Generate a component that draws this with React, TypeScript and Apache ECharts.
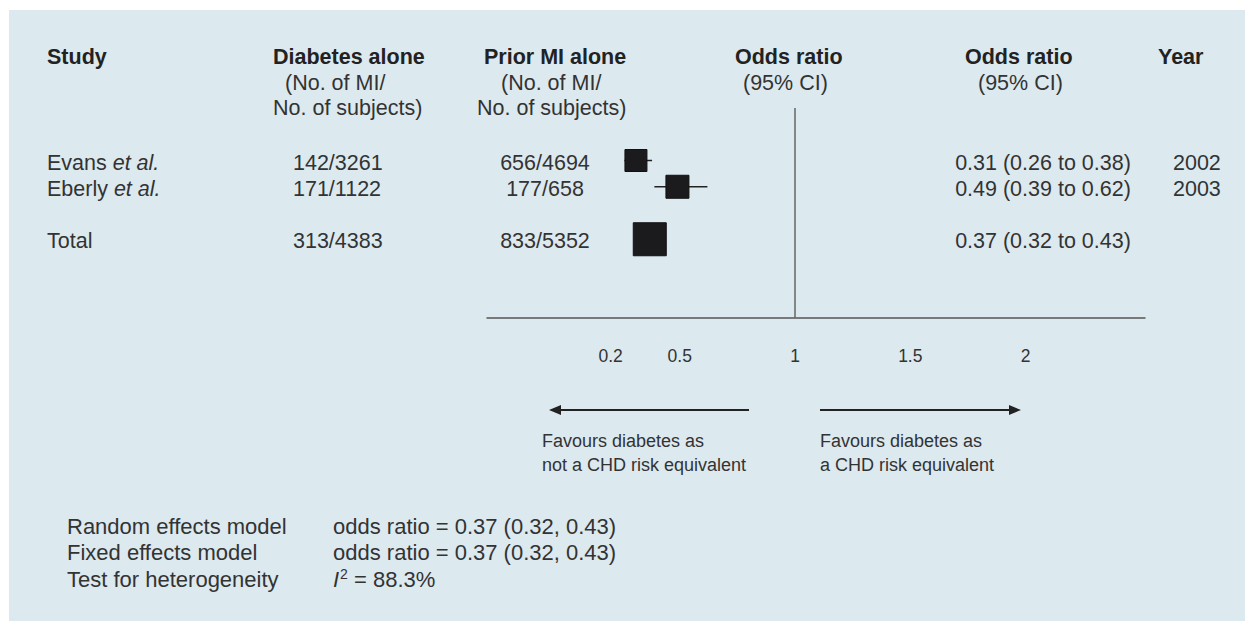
import React, { useEffect, useRef } from "react";
import * as echarts from "echarts";

// ---------- data ----------
const studyNames = ["Evans", "Eberly", "Total"];
const studySuffix = ["et al.", "et al.", ""];
const diabetesAlone = ["142/3261", "171/1122", "313/4383"];
const priorMIAlone = ["656/4694", "177/658", "833/5352"];
const oddsRatio = [0.31, 0.49, 0.37];
const ciLow = [0.26, 0.39, 0.32];
const ciHigh = [0.38, 0.62, 0.43];
const years = ["2002", "2003", ""];
const rowPos = [1, 2, 4];
const markerSize = [22, 23, 33];
const tickValues = [0.2, 0.5, 1, 1.5, 2];

const summaryLabels = ["Random effects model", "Fixed effects model", "Test for heterogeneity"];
const summaryOR = [0.37, 0.37];
const summaryLow = [0.32, 0.32];
const summaryHigh = [0.43, 0.43];
const heterogeneityI2 = 88.3;

const favoursLeft = ["Favours diabetes as", "not a CHD risk equivalent"];
const favoursRight = ["Favours diabetes as", "a CHD risk equivalent"];

// ---------- layout ----------
const FONT = "'Liberation Sans', Arial, Helvetica, sans-serif";
const BODY = "#333333";
const BOLD = "#222222";
const GRID_LEFT = 487;
const GRID_WIDTH = 658;
const GRID_TOP = 108;
const GRID_HEIGHT = 210;
const X_MIN = -0.336;
const X_MAX = 2.518;
const Y_MIN = -1;
const Y_MAX = 7;
const rowPx = (r: number) => GRID_TOP + ((r - Y_MIN) / (Y_MAX - Y_MIN)) * GRID_HEIGHT;

function txt(text: string, x: number, y: number, o: any = {}) {
  return {
    type: "text",
    x,
    y,
    z: 10,
    style: {
      text,
      fill: o.color || BODY,
      fontSize: o.size || 21.5,
      fontFamily: FONT,
      fontWeight: o.bold ? "bold" : "normal",
      fontStyle: o.italic ? "italic" : "normal",
      align: o.align || "left",
      textAlign: o.align || "left",
      verticalAlign: "middle",
      textVerticalAlign: "middle",
      rich: o.rich,
    },
  };
}

const fmt = (v: number) => v.toFixed(2);

export default function App() {
  const ref = useRef<HTMLDivElement>(null);

  useEffect(() => {
    if (!ref.current) return;
    const chart = echarts.init(ref.current, undefined, { renderer: "svg" });

    const graphics: any[] = [];
    // panel background
    graphics.push({
      type: "rect",
      z: -10,
      shape: { x: 9, y: 10, width: 1236, height: 611 },
      style: { fill: "#dce9ef" },
    });

    // headers
    graphics.push(txt("Study", 47, 57, { bold: true, color: BOLD }));
    graphics.push(txt("Diabetes alone", 273, 57, { bold: true, color: BOLD }));
    graphics.push(txt("(No. of MI/", 285, 83));
    graphics.push(txt("No. of subjects)", 273, 108));
    graphics.push(txt("Prior MI alone", 484, 57, { bold: true, color: BOLD }));
    graphics.push(txt("(No. of MI/", 501, 83));
    graphics.push(txt("No. of subjects)", 477, 108));
    graphics.push(txt("Odds ratio", 735, 57, { bold: true, color: BOLD }));
    graphics.push(txt("(95% CI)", 743, 83));
    graphics.push(txt("Odds ratio", 965, 57, { bold: true, color: BOLD }));
    graphics.push(txt("(95% CI)", 978, 83));
    graphics.push(txt("Year", 1158, 57, { bold: true, color: BOLD }));

    // rows
    studyNames.forEach((name, i) => {
      const y = rowPx(rowPos[i]) + 2;
      const rich = {
        n: { fontSize: 21.5, fontFamily: FONT, fill: BODY, color: BODY },
        i: { fontSize: 21.5, fontFamily: FONT, fontStyle: "italic", fill: BODY, color: BODY },
      };
      const t = studySuffix[i] ? `{n|${name} }{i|${studySuffix[i]}}` : `{n|${name}}`;
      graphics.push(txt(t, 47, y, { rich }));
      graphics.push(txt(diabetesAlone[i], 293, y));
      graphics.push(txt(priorMIAlone[i], 545, y, { align: "center" }));
      const orStr = `${fmt(oddsRatio[i])} (${fmt(ciLow[i])} to ${fmt(ciHigh[i])})`;
      graphics.push(txt(orStr, 1043, y, { align: "center" }));
      if (years[i]) graphics.push(txt(years[i], 1173, y));
    });

    // arrows
    const ay = 410;
    graphics.push({
      type: "line",
      z: 10,
      shape: { x1: 749, y1: ay, x2: 558, y2: ay },
      style: { stroke: "#222", lineWidth: 2 },
    });
    graphics.push({
      type: "polygon",
      z: 10,
      shape: { points: [[549, ay], [561, ay - 5], [561, ay + 5]] },
      style: { fill: "#222" },
    });
    graphics.push({
      type: "line",
      z: 10,
      shape: { x1: 820, y1: ay, x2: 1011, y2: ay },
      style: { stroke: "#222", lineWidth: 2 },
    });
    graphics.push({
      type: "polygon",
      z: 10,
      shape: { points: [[1021, ay], [1009, ay - 5], [1009, ay + 5]] },
      style: { fill: "#222" },
    });
    favoursLeft.forEach((s, i) => graphics.push(txt(s, 542, 441 + i * 24, { size: 18 })));
    favoursRight.forEach((s, i) => graphics.push(txt(s, 820, 441 + i * 24, { size: 18 })));

    // summary
    summaryLabels.forEach((s, i) => graphics.push(txt(s, 67, 526 + i * 26.5, { size: 22 })));
    summaryOR.forEach((v, i) =>
      graphics.push(
        txt(`odds ratio = ${fmt(v)} (${fmt(summaryLow[i])}, ${fmt(summaryHigh[i])})`, 333, 526 + i * 26.5, { size: 22 })
      )
    );
    graphics.push(
      txt(`{i|I}{s|2}{n| = ${heterogeneityI2}%}`, 333, 526 + 2 * 26.5, {
        size: 22,
        rich: {
          i: { fontSize: 22, lineHeight: 24, fontFamily: FONT, fontStyle: "italic", fill: BODY, color: BODY, verticalAlign: "middle" },
          s: { fontSize: 14, lineHeight: 24, fontFamily: FONT, fill: BODY, color: BODY, verticalAlign: "top", padding: [0, 0, 0, 1] },
          n: { fontSize: 22, lineHeight: 24, fontFamily: FONT, fill: BODY, color: BODY, verticalAlign: "middle" },
        },
      })
    );

    chart.setOption({
      animation: false,
      backgroundColor: "#ffffff",
      grid: { left: GRID_LEFT, width: GRID_WIDTH, top: GRID_TOP, height: GRID_HEIGHT },
      xAxis: {
        type: "value",
        min: X_MIN,
        max: X_MAX,
        axisLine: { show: true, onZero: false, lineStyle: { color: "#555", width: 1.5 } },
        axisTick: { show: false },
        splitLine: { show: false },
        axisLabel: {
          customValues: tickValues,
          margin: 29,
          fontSize: 17.5,
          fontFamily: FONT,
          color: BODY,
          formatter: (v: number) => String(v),
        },
      },
      yAxis: {
        type: "value",
        min: Y_MIN,
        max: Y_MAX,
        inverse: true,
        show: false,
        splitLine: { show: false },
      },
      graphic: graphics,
      series: [
        {
          type: "custom",
          name: "CI",
          silent: true,
          z: 3,
          encode: { x: [0, 1], y: 2 },
          data: rowPos.map((r, i) => [ciLow[i], ciHigh[i], r]),
          renderItem: (params: any, api: any) => {
            const a = api.coord([api.value(0), api.value(2)]);
            const b = api.coord([api.value(1), api.value(2)]);
            return {
              type: "line",
              shape: { x1: a[0], y1: a[1], x2: b[0], y2: b[1] },
              style: { stroke: "#222", lineWidth: 1.5 },
            };
          },
        },
        {
          type: "scatter",
          name: "Odds ratio",
          z: 4,
          symbol: "rect",
          itemStyle: { color: "#1b1b1d", borderColor: "#111", borderWidth: 1, opacity: 1 },
          emphasis: { disabled: true },
          data: rowPos.map((r, i) => ({ value: [oddsRatio[i], r], symbolSize: markerSize[i] })),
          markLine: {
            silent: true,
            symbol: ["none", "none"],
            label: { show: false },
            lineStyle: { color: "#666", width: 1.5, type: "solid" },
            data: [{ xAxis: 1 }],
          },
        },
      ],
    });

    return () => chart.dispose();
  }, []);

  return (
    <div
      ref={ref}
      style={{ position: "fixed", left: 0, top: 0, width: 1245, height: 621 }}
    />
  );
}
